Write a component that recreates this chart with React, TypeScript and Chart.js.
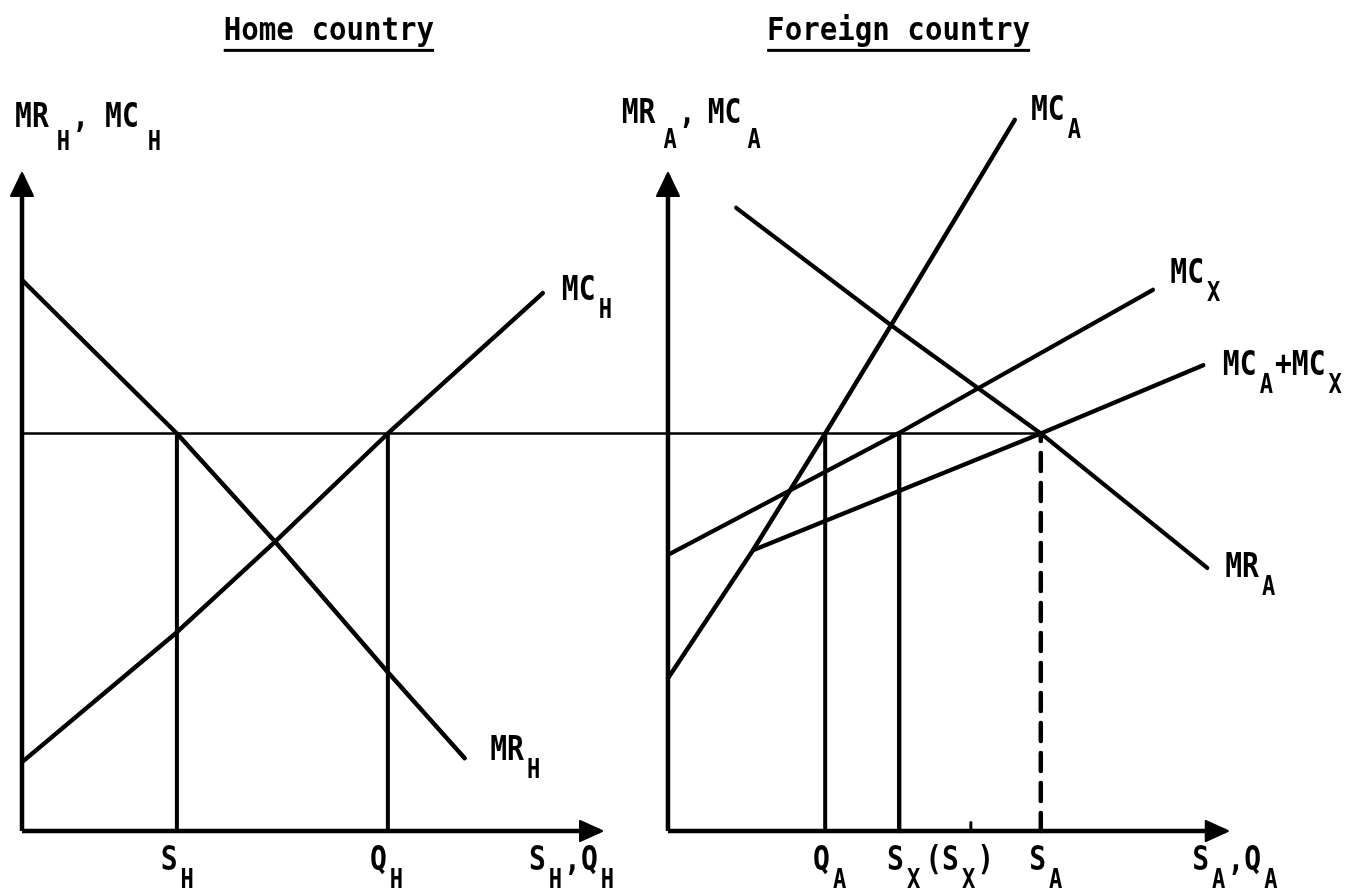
import React, { useEffect, useRef } from 'react';
import { Chart, registerables } from 'chart.js';

Chart.register(...registerables);

// ---------- data (price on y, quantity on x; each panel measured from its own origin) ----------
const PRICE_LEVEL = 60.6; // common MR = MC level (horizontal line)

// Home country
const HOME_MR: number[][] = [[0, 84.0], [26.8, 60.6], [43.8, 44.1], [63.3, 24.2], [76.6, 11.1]];
const HOME_MC: number[][] = [[0, 10.5], [26.8, 30.3], [43.8, 44.1], [63.3, 60.6], [90.1, 82.0]];
const HOME_S = 26.8; // S_H
const HOME_Q = 63.3; // Q_H
const HOME_AXIS_X_END = 100;
const HOME_AXIS_Y_END = 100;

// Foreign country
const FOREIGN_MC_A: number[][] = [[0, 23.3], [14.7, 42.8], [27.2, 60.6], [38.6, 77.1], [60.0, 108.4]];
const FOREIGN_MC_X: number[][] = [[0, 42.1], [39.8, 60.6], [83.9, 82.5]];
const FOREIGN_MC_SUM: number[][] = [[14.7, 42.8], [64.5, 60.6], [92.6, 71.0]];
const FOREIGN_MR_A: number[][] = [[11.8, 95.0], [38.6, 77.1], [64.5, 60.6], [93.3, 40.1]];
const FOREIGN_Q_A = 27.2;
const FOREIGN_S_X = 40.0;
const FOREIGN_S_X_ALT = 52.4; // (S_X) tick mark
const FOREIGN_S_A = 64.5;
const FOREIGN_AXIS_X_END = 96.5;
const FOREIGN_AXIS_Y_END = 100;
const TICK_HEIGHT = 1.3;

// ---------- layout ----------
const W = 1351;
const H = 891;
const FOREIGN_OFFSET = 111.76; // foreign origin measured on the home quantity scale
const X_MIN = -3.806;
const X_MAX = 229.93;
const Y_MIN = -9.146;
const Y_MAX = 126.68;

const FONT = '"DejaVu Sans Mono", "Liberation Mono", monospace';
const MAIN_SIZE = 33;
const SUB_SIZE = 26;
const SUB_DY = 18;
const SUB_GAP = 3;
const SX = 0.85;

type Part = [string, boolean] | number;
interface Label { axis: 'xH' | 'xF'; x: number; y: number; parts: Part[]; subDy?: number }

const LABELS: Label[] = [
  { axis: 'xH', x: -1.2, y: 107.3, subDy: 23, parts: [['MR', false], 5, ['H', true], 2, [',', false], 16, ['MC', false], 6, ['H', true]] },
  { axis: 'xH', x: 93.4, y: 80.9, parts: [['MC', false], ['H', true]] },
  { axis: 'xH', x: 81.0, y: 10.8, parts: [['MR', false], ['H', true]] },
  { axis: 'xH', x: 24.0, y: -5.95, parts: [['S', false], ['H', true]] },
  { axis: 'xH', x: 60.2, y: -5.95, parts: [['Q', false], ['H', true]] },
  { axis: 'xH', x: 87.7, y: -5.95, parts: [['S', false], ['H', true], 2, [',Q', false], ['H', true]] },
  { axis: 'xF', x: -8.0, y: 107.9, subDy: 25, parts: [['MR', false], 5, ['A', true], 2, [',', false], 12, ['MC', false], 3, ['A', true]] },
  { axis: 'xF', x: 62.8, y: 108.4, parts: [['MC', false], ['A', true]] },
  { axis: 'xF', x: 86.9, y: 83.5, parts: [['MC', false], ['X', true]] },
  { axis: 'xF', x: 96.0, y: 69.5, parts: [['MC', false], ['A', true], 2, ['+MC', false], ['X', true]] },
  { axis: 'xF', x: 96.4, y: 38.7, parts: [['MR', false], ['A', true]] },
  { axis: 'xF', x: 25.1, y: -5.95, parts: [['Q', false], ['A', true]] },
  { axis: 'xF', x: 37.9, y: -5.95, parts: [['S', false], ['X', true], 5, ['(S', false], ['X', true], 2, [')', false]] },
  { axis: 'xF', x: 62.5, y: -5.95, parts: [['S', false], ['A', true]] },
  { axis: 'xF', x: 90.7, y: -5.95, parts: [['S', false], ['A', true], 2, [',Q', false], ['A', true]] },
];

const TITLES = [
  { axis: 'xH', x: 53.1, y: 120.6, text: 'Home country' },
  { axis: 'xF', x: 39.9, y: 120.6, text: 'Foreign country' },
];

const pts = (arr: number[][]) => arr.map(([x, y]) => ({ x, y }));

function seg(data: { x: number; y: number }[], xAxisID: string, width: number, extra: any = {}) {
  return {
    data,
    xAxisID,
    yAxisID: 'y',
    showLine: true,
    borderColor: '#000',
    backgroundColor: '#000',
    borderWidth: width,
    pointRadius: 0,
    pointHoverRadius: 0,
    tension: 0,
    fill: false,
    borderCapStyle: 'round',
    borderJoinStyle: 'round',
    ...extra,
  };
}

const arrowPlugin = {
  id: 'arrowHeads',
  afterDatasetsDraw(chart: any) {
    const ctx = chart.ctx;
    chart.data.datasets.forEach((ds: any, i: number) => {
      if (!ds.arrow) return;
      const meta = chart.getDatasetMeta(i);
      const n = meta.data.length;
      const a = meta.data[n - 2];
      const b = meta.data[n - 1];
      const ang = Math.atan2(b.y - a.y, b.x - a.x);
      const len = ds.arrow.length;
      const half = ds.arrow.width / 2;
      const tx = b.x + Math.cos(ang) * 2;
      const ty = b.y + Math.sin(ang) * 2;
      const bx = tx - Math.cos(ang) * len;
      const by = ty - Math.sin(ang) * len;
      ctx.save();
      ctx.fillStyle = '#000';
      ctx.strokeStyle = '#000';
      ctx.lineJoin = 'round';
      ctx.lineWidth = 2;
      ctx.beginPath();
      ctx.moveTo(tx, ty);
      ctx.lineTo(bx - Math.sin(ang) * half, by + Math.cos(ang) * half);
      ctx.lineTo(bx + Math.sin(ang) * half, by - Math.cos(ang) * half);
      ctx.closePath();
      ctx.fill();
      ctx.stroke();
      ctx.restore();
    });
  },
};

const textPlugin = {
  id: 'econText',
  afterDatasetsDraw(chart: any) {
    const ctx = chart.ctx;
    const ys = chart.scales.y;
    ctx.save();
    ctx.fillStyle = '#000';
    ctx.textBaseline = 'alphabetic';
    ctx.textAlign = 'left';
    LABELS.forEach((lb) => {
      let cx = chart.scales[lb.axis].getPixelForValue(lb.x);
      const cy = ys.getPixelForValue(lb.y);
      const subDy = lb.subDy ?? SUB_DY;
      lb.parts.forEach((p) => {
        if (typeof p === 'number') { cx += p; return; }
        const [t, sub] = p;
        if (sub) cx += SUB_GAP;
        ctx.font = `bold ${sub ? SUB_SIZE : MAIN_SIZE}px ${FONT}`;
        const w = ctx.measureText(t).width * SX;
        ctx.save();
        ctx.translate(cx, cy + (sub ? subDy : 0));
        ctx.scale(SX, 1);
        ctx.fillText(t, 0, 0);
        ctx.restore();
        cx += w;
      });
    });
    TITLES.forEach((tt) => {
      const tsx = 0.91;
      ctx.font = `bold 32px ${FONT}`;
      const w = ctx.measureText(tt.text).width * tsx;
      const cx = chart.scales[tt.axis].getPixelForValue(tt.x);
      const cy = ys.getPixelForValue(tt.y);
      ctx.save();
      ctx.translate(cx - w / 2, cy);
      ctx.scale(tsx, 1);
      ctx.fillText(tt.text, 0, 0);
      ctx.restore();
      ctx.fillRect(cx - w / 2, cy + 9, w, 3);
    });
    ctx.restore();
  },
};

export default function App() {
  const ref = useRef<HTMLCanvasElement | null>(null);

  useEffect(() => {
    if (!ref.current) return;
    const datasets: any[] = [
      // home axes
      seg([{ x: 0, y: 0 }, { x: 0, y: HOME_AXIS_Y_END }], 'xH', 4.5, { borderCapStyle: 'butt', arrow: { length: 23, width: 22 } }),
      seg([{ x: 0, y: 0 }, { x: HOME_AXIS_X_END, y: 0 }], 'xH', 4.5, { borderCapStyle: 'butt', arrow: { length: 22, width: 20 } }),
      // foreign axes
      seg([{ x: 0, y: 0 }, { x: 0, y: FOREIGN_AXIS_Y_END }], 'xF', 4.5, { borderCapStyle: 'butt', arrow: { length: 23, width: 22 } }),
      seg([{ x: 0, y: 0 }, { x: FOREIGN_AXIS_X_END, y: 0 }], 'xF', 4.5, { borderCapStyle: 'butt', arrow: { length: 22, width: 20 } }),
      // common price level line
      seg([{ x: 0, y: PRICE_LEVEL }, { x: FOREIGN_OFFSET + FOREIGN_S_A, y: PRICE_LEVEL }], 'xH', 2.6),
      // home curves
      seg(pts(HOME_MR), 'xH', 4.4),
      seg(pts(HOME_MC), 'xH', 4.4),
      seg([{ x: HOME_S, y: 0 }, { x: HOME_S, y: PRICE_LEVEL }], 'xH', 4),
      seg([{ x: HOME_Q, y: 0 }, { x: HOME_Q, y: PRICE_LEVEL }], 'xH', 4),
      // foreign curves
      seg(pts(FOREIGN_MC_A), 'xF', 4.4),
      seg(pts(FOREIGN_MC_X), 'xF', 4.2),
      seg(pts(FOREIGN_MC_SUM), 'xF', 4.4),
      seg(pts(FOREIGN_MR_A), 'xF', 4.2),
      seg([{ x: FOREIGN_Q_A, y: 0 }, { x: FOREIGN_Q_A, y: PRICE_LEVEL }], 'xF', 4),
      seg([{ x: FOREIGN_S_X, y: 0 }, { x: FOREIGN_S_X, y: PRICE_LEVEL }], 'xF', 4.4),
      seg([{ x: FOREIGN_S_X_ALT, y: 0 }, { x: FOREIGN_S_X_ALT, y: TICK_HEIGHT }], 'xF', 3),
      seg([{ x: FOREIGN_S_A, y: 0 }, { x: FOREIGN_S_A, y: PRICE_LEVEL }], 'xF', 4.5, { borderDash: [18, 12] }),
    ];

    const chart = new Chart(ref.current, {
      type: 'scatter',
      data: { datasets },
      options: {
        animation: false,
        responsive: true,
        maintainAspectRatio: false,
        events: [],
        layout: { padding: 0 },
        plugins: { legend: { display: false }, tooltip: { enabled: false }, title: { display: false } },
        scales: {
          xH: { type: 'linear', axis: 'x', position: 'bottom', display: false, min: X_MIN, max: X_MAX },
          xF: { type: 'linear', axis: 'x', position: 'bottom', display: false, min: X_MIN - FOREIGN_OFFSET, max: X_MAX - FOREIGN_OFFSET },
          y: { type: 'linear', display: false, min: Y_MIN, max: Y_MAX },
        },
      } as any,
      plugins: [arrowPlugin, textPlugin],
    });
    return () => chart.destroy();
  }, []);

  return (
    <div style={{ position: 'fixed', left: 0, top: 0, width: W, height: H, background: '#fff' }}>
      <canvas ref={ref} />
    </div>
  );
}
